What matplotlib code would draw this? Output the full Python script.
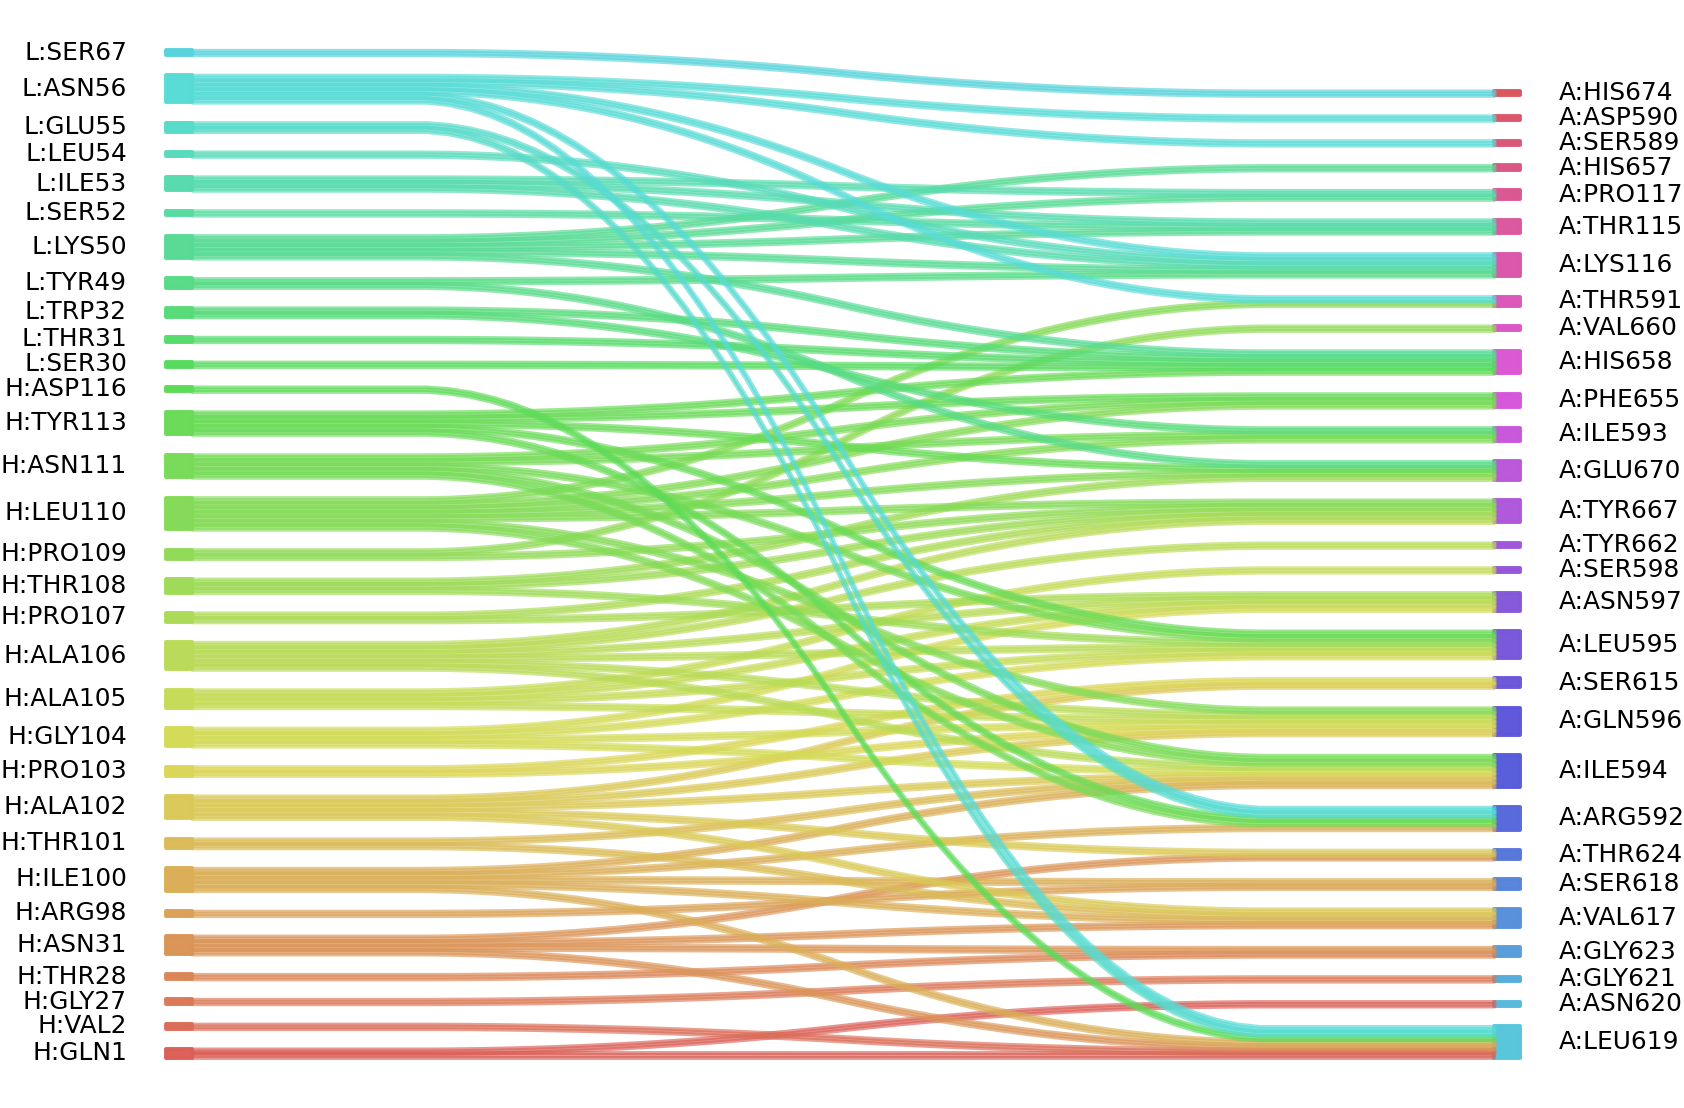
import numpy as np
import matplotlib
matplotlib.use('Agg')
import matplotlib.pyplot as plt
import seaborn as sns

# residues on each side, listed top to bottom as they appear
left_labels = ['L:SER67', 'L:ASN56', 'L:GLU55', 'L:LEU54', 'L:ILE53', 'L:SER52', 'L:LYS50',
               'L:TYR49', 'L:TRP32', 'L:THR31', 'L:SER30', 'H:ASP116', 'H:TYR113', 'H:ASN111',
               'H:LEU110', 'H:PRO109', 'H:THR108', 'H:PRO107', 'H:ALA106', 'H:ALA105', 'H:GLY104',
               'H:PRO103', 'H:ALA102', 'H:THR101', 'H:ILE100', 'H:ARG98', 'H:ASN31', 'H:THR28',
               'H:GLY27', 'H:VAL2', 'H:GLN1']
right_labels = ['A:HIS674', 'A:ASP590', 'A:SER589', 'A:HIS657', 'A:PRO117', 'A:THR115', 'A:LYS116',
                'A:THR591', 'A:VAL660', 'A:HIS658', 'A:PHE655', 'A:ILE593', 'A:GLU670', 'A:TYR667',
                'A:TYR662', 'A:SER598', 'A:ASN597', 'A:LEU595', 'A:SER615', 'A:GLN596', 'A:ILE594',
                'A:ARG592', 'A:THR624', 'A:SER618', 'A:VAL617', 'A:GLY623', 'A:GLY621', 'A:ASN620',
                'A:LEU619']

# contacts (left residue -> right residue)
contacts = {
    'L:SER67': ['A:HIS674'],
    'L:ASN56': ['A:ASP590', 'A:SER589', 'A:LYS116', 'A:THR591', 'A:ARG592', 'A:LEU619'],
    'L:GLU55': ['A:ARG592', 'A:LEU619'],
    'L:LEU54': ['A:LYS116'],
    'L:ILE53': ['A:PRO117', 'A:THR115', 'A:LYS116'],
    'L:SER52': ['A:THR115'],
    'L:LYS50': ['A:HIS657', 'A:PRO117', 'A:THR115', 'A:LYS116', 'A:HIS658'],
    'L:TYR49': ['A:LYS116', 'A:GLU670'],
    'L:TRP32': ['A:HIS658', 'A:ILE593'],
    'L:THR31': ['A:HIS658'],
    'L:SER30': ['A:HIS658'],
    'H:ASP116': ['A:LEU619'],
    'H:TYR113': ['A:HIS658', 'A:PHE655', 'A:GLU670', 'A:LEU595', 'A:ARG592'],
    'H:ASN111': ['A:PHE655', 'A:ILE593', 'A:LEU595', 'A:ILE594', 'A:ARG592'],
    'H:LEU110': ['A:THR591', 'A:PHE655', 'A:ILE593', 'A:GLU670', 'A:TYR667', 'A:GLN596', 'A:ILE594'],
    'H:PRO109': ['A:VAL660', 'A:TYR667'],
    'H:THR108': ['A:GLU670', 'A:TYR667', 'A:LEU595'],
    'H:PRO107': ['A:TYR667', 'A:ASN597'],
    'H:ALA106': ['A:TYR662', 'A:TYR667', 'A:ASN597', 'A:LEU595', 'A:GLN596', 'A:ILE594'],
    'H:ALA105': ['A:SER598', 'A:ASN597', 'A:LEU595', 'A:GLN596'],
    'H:GLY104': ['A:ASN597', 'A:LEU595', 'A:GLN596', 'A:ILE594'],
    'H:PRO103': ['A:SER615', 'A:GLN596'],
    'H:ALA102': ['A:SER615', 'A:GLN596', 'A:ILE594', 'A:THR624', 'A:VAL617'],
    'H:THR101': ['A:ILE594', 'A:VAL617'],
    'H:ILE100': ['A:ARG592', 'A:ILE594', 'A:SER618', 'A:VAL617', 'A:LEU619'],
    'H:ARG98': ['A:SER618'],
    'H:ASN31': ['A:THR624', 'A:VAL617', 'A:GLY623', 'A:LEU619'],
    'H:THR28': ['A:GLY623'],
    'H:GLY27': ['A:GLY621'],
    'H:VAL2': ['A:LEU619'],
    'H:GLN1': ['A:ASN620', 'A:LEU619'],
}

# stacking goes bottom -> top
leftLabels = left_labels[::-1]
rightLabels = right_labels[::-1]
allLabels = leftLabels + rightLabels
colorDict = dict(zip(allLabels, sns.color_palette("hls", len(allLabels))))

weights = {}
for l, rs in contacts.items():
    for r in rs:
        weights[(l, r)] = weights.get((l, r), 0) + 1

gap = 4.5
lw = 2.8

leftWidths = {}
y = 0
for lab in leftLabels:
    w = sum(v for (l, r), v in weights.items() if l == lab)
    leftWidths[lab] = {'bottom': y, 'w': w}
    y += w + gap
rightWidths = {}
y = 0
for lab in rightLabels:
    w = sum(v for (l, r), v in weights.items() if r == lab)
    rightWidths[lab] = {'bottom': y, 'w': w}
    y += w + gap

fig = plt.figure(figsize=(16.84, 11.08), dpi=100)
ax = fig.add_axes([0, 0, 1, 1])
xMax = 1.0
span = 1302.0
ax.set_xlim(-192 / span, (1684 - 192) / span)
pxu = 4.519
ax.set_ylim((1058 - 1108) / pxu, 1058 / pxu)
ax.axis('off')

for lab in leftLabels:
    b, w = leftWidths[lab]['bottom'], leftWidths[lab]['w']
    ax.fill_between([-0.02 * xMax, 0], 2 * [b], 2 * [b + w], color=colorDict[lab], alpha=0.99, lw=lw)
    ax.text(-0.05 * xMax, b + 0.5 * w, lab, ha='right', va='center', fontsize=17.9)
for lab in rightLabels:
    b, w = rightWidths[lab]['bottom'], rightWidths[lab]['w']
    ax.fill_between([xMax, 1.02 * xMax], 2 * [b], 2 * [b + w], color=colorDict[lab], alpha=0.99, lw=lw)
    ax.text(1.05 * xMax, b + 0.5 * w, lab, ha='left', va='center', fontsize=17.9)

lb = {k: v['bottom'] for k, v in leftWidths.items()}
rb = {k: v['bottom'] for k, v in rightWidths.items()}
for l in leftLabels:
    for r in rightLabels:
        if (l, r) not in weights:
            continue
        w = weights[(l, r)]
        ys_d = np.array(50 * [lb[l]] + 50 * [rb[r]])
        ys_d = np.convolve(ys_d, 0.05 * np.ones(20), mode='valid')
        ys_d = np.convolve(ys_d, 0.05 * np.ones(20), mode='valid')
        ys_u = np.array(50 * [lb[l] + w] + 50 * [rb[r] + w])
        ys_u = np.convolve(ys_u, 0.05 * np.ones(20), mode='valid')
        ys_u = np.convolve(ys_u, 0.05 * np.ones(20), mode='valid')
        lb[l] += w
        rb[r] += w
        ax.fill_between(np.linspace(0, xMax, len(ys_d)), ys_d, ys_u, alpha=0.65,
                        color=colorDict[l], lw=lw)

fig.savefig('out.png', dpi=100)
